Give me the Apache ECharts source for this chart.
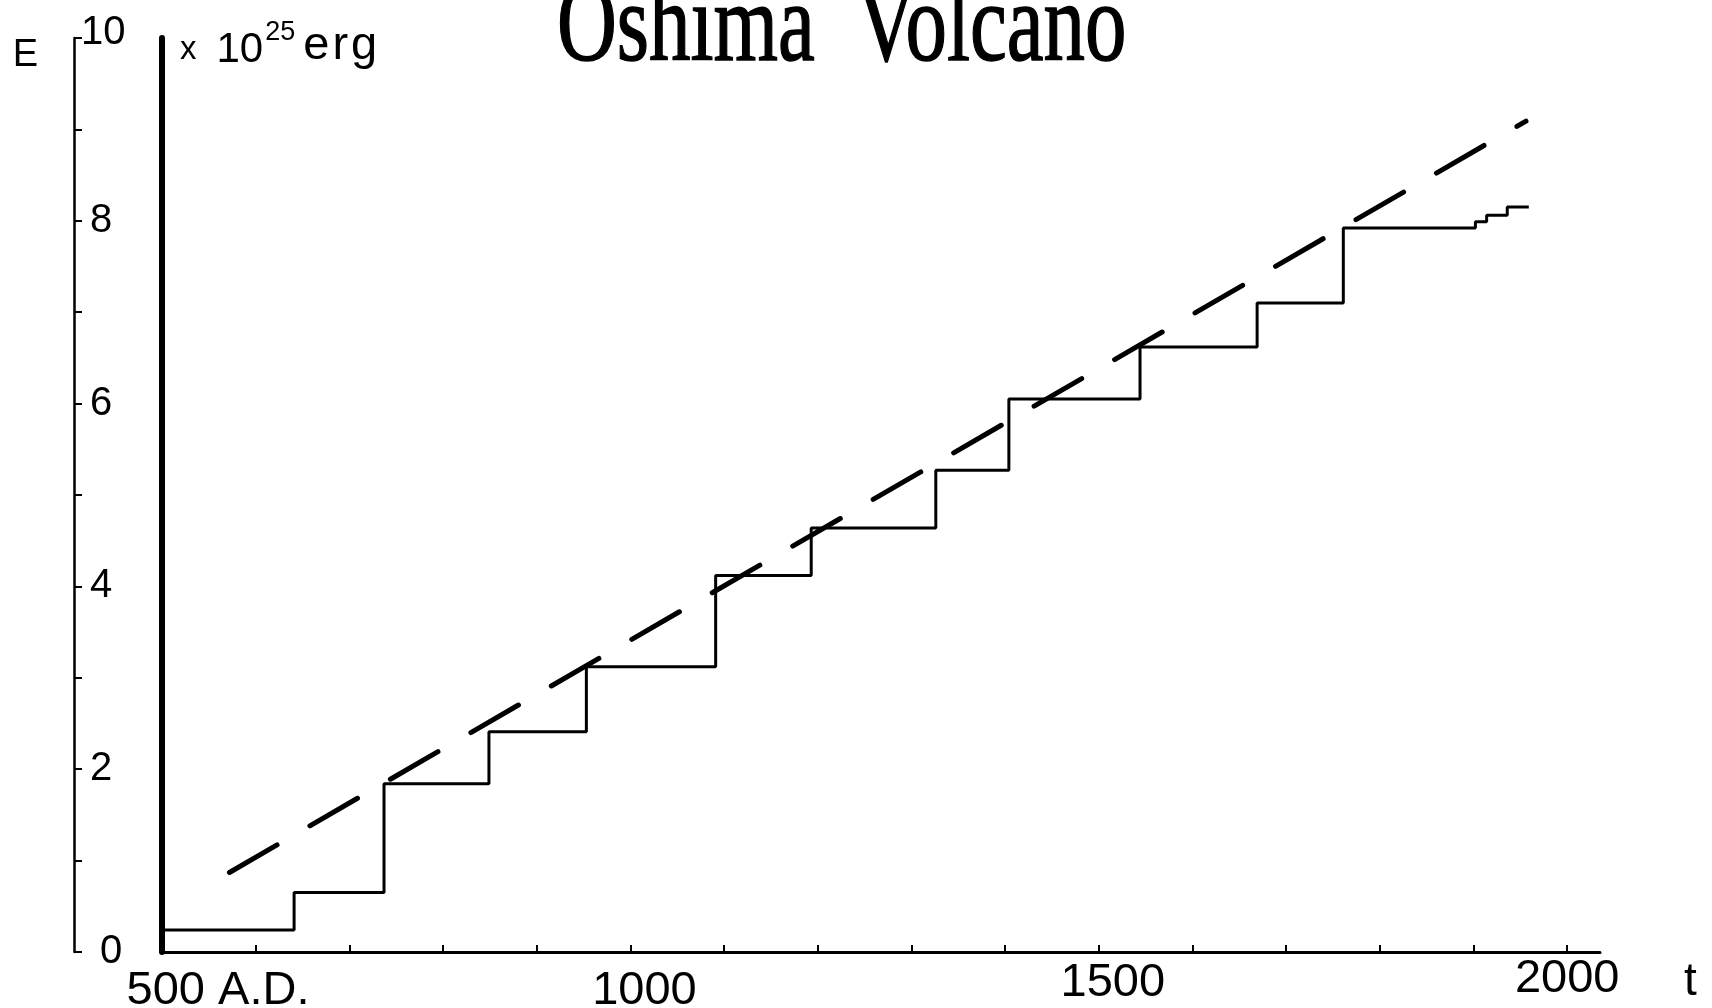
<!DOCTYPE html>
<html lang="en">
<head>
<meta charset="utf-8">
<title>Oshima Volcano</title>
<script src="https://cdn.jsdelivr.net/npm/echarts@6/dist/echarts.min.js"></script>
<style>
  html, body { margin: 0; padding: 0; background: #fff; }
  #chart { width: 1712px; height: 1008px; }
</style>
</head>
<body>
<div id="chart"></div>
<script type="text/javascript">
  // cumulative energy steps (x 10^25 erg), level holds from each year until the next one
  let stepYears  = [500, 641, 737, 849, 953, 1091, 1193, 1326, 1404, 1544, 1669, 1761, 1902, 1914, 1936, 1959];
  let stepEnergy = [0.24, 0.65, 1.84, 2.41, 3.12, 4.12, 4.64, 5.27, 6.05, 6.62, 7.10, 7.92, 7.99, 8.06, 8.15, 8.15];

  // dashed trend line ends
  let trendYears  = [572, 1956];
  let trendEnergy = [0.87, 9.09];

  let xLabelValues = [500, 1000, 1500, 2000];
  let xTickValues  = [600, 700, 800, 900, 1000, 1100, 1200, 1300, 1400, 1500, 1600, 1700, 1800, 1900, 2000];

  let stepData = stepYears.map((y, i) => [y, stepEnergy[i]]);
  let trendData = trendYears.map((y, i) => [y, trendEnergy[i]]);

  let labelFont = '"Liberation Sans", Arial, sans-serif';

  let Chart = echarts.init(document.getElementById('chart'));

  let option = {
    animation: false,
    backgroundColor: '#fff',
    grid: { left: 162, right: 112, top: 38, bottom: 56, outerBoundsMode: 'none', containLabel: false },
    graphic: [
      {
        type: 'text',
        x: 557,
        y: 31,
        scaleX: 0.74,
        style: {
          text: 'Oshima  Volcano',
          font: '112px "Liberation Serif", "Times New Roman", serif',
          fill: '#000',
          stroke: '#000',
          lineWidth: 1.5,
          verticalAlign: 'middle'
        }
      }
    ],
    xAxis: {
      type: 'value',
      min: 500,
      max: 2035,
      name: 't',
      nameLocation: 'end',
      nameGap: 84,
      nameTextStyle: { fontSize: 46, fontFamily: labelFont, color: '#000', verticalAlign: 'top', padding: [7, 0, 0, 0] },
      splitLine: { show: false },
      axisLine: { lineStyle: { color: '#000', width: 3 } },
      axisTick: {
        inside: true,
        length: 7,
        customValues: xTickValues,
        lineStyle: { color: '#000', width: 2 }
      },
      axisLabel: {
        customValues: xLabelValues,
        margin: 4,
        fontSize: 47,
        fontFamily: labelFont,
        color: '#000',
        formatter: function (v) {
          if (v === 500) return '{a|500 A.D.}';
          if (v === 1000) return '{b|1000}';
          if (v === 1500) return '{c|1500}';
          return String(v);
        },
        rich: {
          a: { fontSize: 47, fontFamily: labelFont, color: '#000', padding: [12, 0, 0, 112] },
          b: { fontSize: 47, fontFamily: labelFont, color: '#000', padding: [12, 0, 0, 28] },
          c: { fontSize: 47, fontFamily: labelFont, color: '#000', padding: [4, 0, 0, 28] }
        }
      }
    },
    yAxis: [
      {
        type: 'value',
        position: 'left',
        offset: 88,
        min: 0,
        max: 10,
        interval: 1,
        name: 'E',
        nameLocation: 'end',
        nameGap: -18,
        nameTextStyle: {
          fontSize: 38, fontFamily: labelFont, color: '#000',
          align: 'right', verticalAlign: 'middle', padding: [0, 36, 0, 0]
        },
        splitLine: { show: false },
        axisLine: { show: true, lineStyle: { color: '#000', width: 2.5 } },
        axisTick: { inside: true, length: 8, lineStyle: { color: '#000', width: 2 } },
        axisLabel: {
          inside: true,
          margin: 7,
          fontSize: 40,
          fontFamily: labelFont,
          color: '#000',
          formatter: function (v) {
            if (v === 10) return '{t|10}';
            if (v === 0) return '{z|0}';
            return v % 2 === 0 ? '{m|' + v + '}' : '';
          },
          rich: {
            t: { fontSize: 40, fontFamily: labelFont, color: '#000', padding: [0, 0, 10, 0] },
            m: { fontSize: 40, fontFamily: labelFont, color: '#000', padding: [0, 0, 0, 9] },
            z: { fontSize: 40, fontFamily: labelFont, color: '#000', padding: [0, 0, 0, 19] }
          }
        }
      },
      {
        type: 'value',
        position: 'left',
        offset: 0,
        min: 0,
        max: 10,
        name: '{x|x}{n|10}{s|25}{e|e}{r|r}{g|g}',
        nameLocation: 'end',
        nameGap: -7,
        nameTextStyle: {
          color: '#000',
          align: 'left', verticalAlign: 'middle', padding: [0, 0, 0, 18],
          rich: {
            x: { fontSize: 33, fontFamily: labelFont, color: '#000', lineHeight: 33, verticalAlign: 'bottom', padding: [0, 20, 5, 0] },
            n: { fontSize: 42, fontFamily: labelFont, color: '#000', lineHeight: 52, verticalAlign: 'bottom' },
            s: { fontSize: 27, fontFamily: labelFont, color: '#000', lineHeight: 27, verticalAlign: 'top', padding: [0, 2, 0, 2] },
            e: { fontSize: 47, fontFamily: labelFont, color: '#000', lineHeight: 47, verticalAlign: 'bottom', padding: [0, 3, 1, 6] },
            r: { fontSize: 47, fontFamily: labelFont, color: '#000', lineHeight: 47, verticalAlign: 'bottom', padding: [0, 3, 1, 0] },
            g: { fontSize: 47, fontFamily: labelFont, color: '#000', lineHeight: 47, verticalAlign: 'bottom', padding: [0, 0, 1, 0] }
          }
        },
        splitLine: { show: false },
        axisLine: { show: true, lineStyle: { color: '#000', width: 6 } },
        axisTick: { show: false },
        axisLabel: { show: false }
      }
    ],
    series: [
      {
        name: 'energy',
        type: 'line',
        step: 'end',
        data: stepData,
        symbol: 'none',
        lineStyle: { color: '#000', width: 3 }
      },
      {
        name: 'trend',
        type: 'line',
        data: trendData,
        symbol: 'none',
        lineStyle: { color: '#000', width: 5, type: [55, 38], cap: 'round' }
      }
    ]
  };

  Chart.setOption(option);
</script>
</body>
</html>
